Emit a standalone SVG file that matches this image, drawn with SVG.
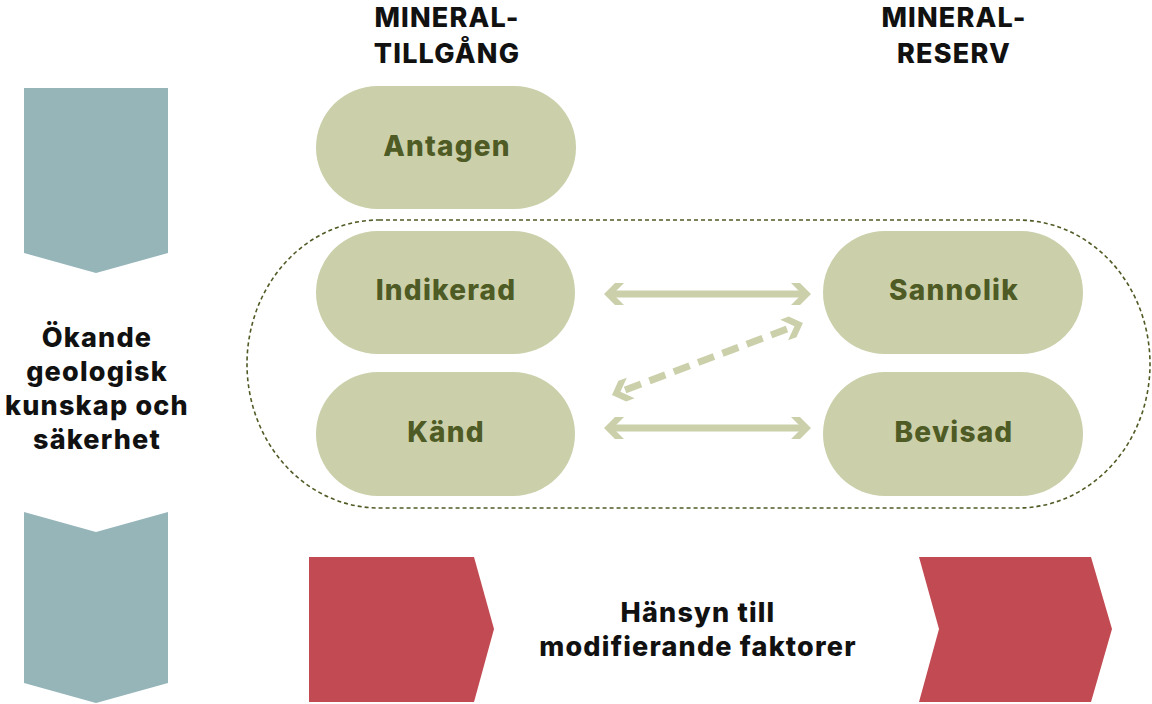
<svg xmlns="http://www.w3.org/2000/svg" width="1152" height="704" viewBox="0 0 1152 704">
<defs>
<style>
.t{font-family:Inter,"Liberation Sans",sans-serif;font-weight:800;font-size:27px;letter-spacing:1.2px;fill:#111;text-anchor:middle}
.pl{fill:#cbd0ab}
.pt{font-family:Inter,"Liberation Sans",sans-serif;font-weight:800;font-size:28px;letter-spacing:1.2px;fill:#4f5b25;text-anchor:middle}
.teal{fill:#95b5b9}
.red{fill:#c24a52}
.ln{stroke:#cbd0ab;stroke-width:7;fill:none}
.hd{fill:#cbd0ab}
</style>
<path id="chev" d="M0,0 L11,-11 L20,-11 L9,0 L20,11 L11,11 Z"/>
</defs>
<rect width="1152" height="704" fill="#fff"/>
<g id="headers">
<text class="t" x="447" y="27">MINERAL-</text>
<text class="t" x="447" y="63">TILLGÅNG</text>
<text class="t" x="954" y="27">MINERAL-</text>
<text class="t" x="954" y="63">RESERV</text>
</g>
<g id="knowledge-arrow">
<polygon class="teal" points="24,88 168,88 168,253 96,273 24,253"/>
<polygon class="teal" points="24,512 96,532 168,512 168,683 96,703 24,683"/>
<text class="t" x="97" y="347">Ökande</text>
<text class="t" x="97" y="381">geologisk</text>
<text class="t" x="97" y="415">kunskap och</text>
<text class="t" x="97" y="449">säkerhet</text>
</g>
<g id="modifying-factors">
<polygon class="red" points="309,557 474,557 494,629 474,702 309,702"/>
<polygon class="red" points="919,557 1091,557 1112,629 1091,702 919,702 939,629"/>
<text class="t" x="698" y="622">Hänsyn till</text>
<text class="t" x="698" y="656">modifierande faktorer</text>
</g>
<g id="group-boundary">
<rect x="247" y="220" width="903" height="288" rx="132" ry="144" fill="none" stroke="#4f5b25" stroke-width="1.6" stroke-dasharray="4 3"/>
</g>
<g id="node-antagen"><rect class="pl" x="316" y="86" width="260" height="123" rx="61.5"/><text class="pt" x="447" y="156">Antagen</text></g>
<g id="node-indikerad"><rect class="pl" x="316" y="231" width="259" height="123" rx="61.5"/><text class="pt" x="446" y="300">Indikerad</text></g>
<g id="node-kand"><rect class="pl" x="316" y="372" width="259" height="124" rx="62"/><text class="pt" x="446" y="442">Känd</text></g>
<g id="node-sannolik"><rect class="pl" x="823" y="231" width="260" height="123" rx="61.5"/><text class="pt" x="954" y="300">Sannolik</text></g>
<g id="node-bevisad"><rect class="pl" x="823" y="372" width="260" height="124" rx="62"/><text class="pt" x="954" y="442">Bevisad</text></g>
<g id="connectors">
<line class="ln" x1="610" y1="294" x2="805" y2="294"/>
<use href="#chev" class="hd" transform="translate(604,294)"/>
<use href="#chev" class="hd" transform="translate(811,294) scale(-1,1)"/>
<line class="ln" x1="610" y1="428" x2="805" y2="428"/>
<use href="#chev" class="hd" transform="translate(604,428)"/>
<use href="#chev" class="hd" transform="translate(811,428) scale(-1,1)"/>
<g transform="translate(612,395) rotate(-20.66)">
<line class="ln" x1="14" y1="0" x2="192" y2="0" stroke-dasharray="17 9"/>
<use href="#chev" class="hd"/>
<use href="#chev" class="hd" transform="translate(204,0) scale(-1,1)"/>
</g>
</g>
</svg>
